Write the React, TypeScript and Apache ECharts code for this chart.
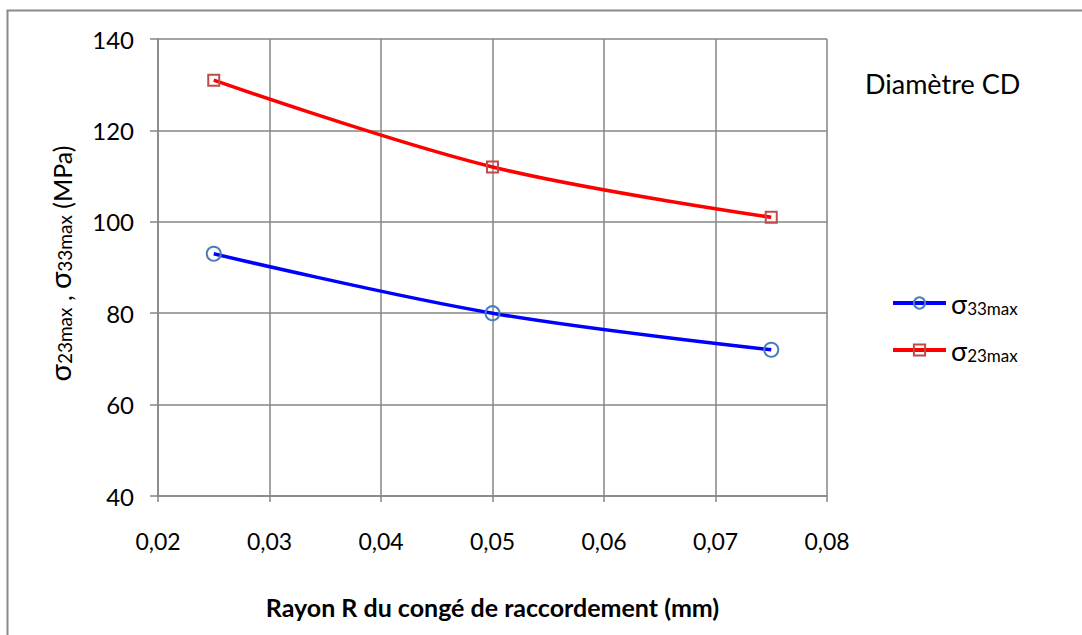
import React, { useEffect, useRef } from "react";
import * as echarts from "echarts";

const rayon = [0.025, 0.05, 0.075];
const sigma33 = [93, 80, 72];
const sigma23 = [131, 112, 101];
const xTicks = [0.02, 0.03, 0.04, 0.05, 0.06, 0.07, 0.08];
const yTicks = [40, 60, 80, 100, 120, 140];

const FONT = "Lato, 'Open Sans', sans-serif";

export default function App() {
  const ref = useRef<HTMLDivElement>(null);
  useEffect(() => {
    if (!ref.current) return;
    const chart = echarts.init(ref.current, null, { renderer: "svg" });
    const grid = { left: 158, right: 1082 - 827, top: 39, bottom: 635 - 496 };
    chart.setOption({
      animation: false,
      backgroundColor: "#ffffff",
      textStyle: { fontFamily: FONT },
      grid: { ...grid, containLabel: false },
      xAxis: {
        type: "value",
        min: xTicks[0],
        max: xTicks[xTicks.length - 1],
        interval: 0.01,
        axisLine: { show: true, lineStyle: { color: "#868686", width: 1.5 } },
        axisTick: { show: true, length: 6, inside: false, lineStyle: { color: "#868686", width: 1.5 } },
        splitLine: { show: true, lineStyle: { color: "#868686", width: 1.5 } },
        axisLabel: {
          color: "#000",
          fontSize: 23,
          fontFamily: FONT,
          margin: 33,
          formatter: (v: number) => v.toFixed(2).replace(".", ","),
        },
        name: "Rayon R du congé de raccordement (mm)",
        nameLocation: "middle",
        nameGap: 98,
        nameTextStyle: { color: "#000", fontSize: 25, fontWeight: "bold", fontFamily: FONT },
      },
      yAxis: {
        type: "value",
        min: yTicks[0],
        max: yTicks[yTicks.length - 1],
        interval: 20,
        axisLine: { show: true, lineStyle: { color: "#868686", width: 1.5 } },
        axisTick: { show: true, length: 8, lineStyle: { color: "#868686", width: 1.5 } },
        splitLine: { show: true, lineStyle: { color: "#868686", width: 1.5 } },
        axisLabel: { color: "#000", fontSize: 24, fontFamily: FONT, margin: 24 },
        name: "{s|σ}{sub|23max}{t| , }{s|σ}{sub|33max}{t| (MPa)}",
        nameLocation: "middle",
        nameGap: 84,
        nameRotate: 90,
        nameTextStyle: {
          color: "#000",
          fontFamily: FONT,
          padding: [0, 0, 0, 8],
          rich: {
            s: { fontSize: 29, fontFamily: FONT, color: "#000", verticalAlign: "bottom", lineHeight: 31 },
            sub: { fontSize: 19, fontFamily: FONT, color: "#000", verticalAlign: "bottom", lineHeight: 25 },
            t: { fontSize: 25, fontFamily: FONT, color: "#000", verticalAlign: "bottom", lineHeight: 31 },
          },
        },
      },
      legend: {
        orient: "vertical",
        left: 886,
        top: 285,
        itemWidth: 53,
        itemHeight: 14,
        itemGap: 20,
        lineStyle: { width: 4 },
        data: ["s33", "s23"],
        formatter: (n: string) =>
          n === "s33" ? "{s|σ}{sub|33max}" : "{s|σ}{sub|23max}",
        textStyle: {
          padding: [0, 0, 0, 0],
          rich: {
            s: { fontSize: 27, fontFamily: FONT, color: "#000", verticalAlign: "bottom", lineHeight: 28 },
            sub: { fontSize: 17, fontFamily: FONT, color: "#000", verticalAlign: "bottom", lineHeight: 21 },
          },
        },
      },
      graphic: [
        {
          type: "polyline",
          shape: { points: [[7.5, 700], [7.5, 10.5], [1090, 10.5]] },
          style: { stroke: "#8a8a8a", lineWidth: 2, fill: "none" },
        },
        {
          type: "text",
          left: 865,
          top: 70,
          style: { text: "Diamètre CD", fontSize: 27, fontFamily: FONT, fill: "#000" },
        },
      ],
      series: [
        {
          name: "s33",
          type: "line",
          smooth: 0.35,
          data: rayon.map((x, i) => [x, sigma33[i]]),
          lineStyle: { color: "#0000ff", width: 3.5 },
          symbol: "circle",
          symbolSize: 14,
          itemStyle: { color: "rgba(0,0,0,0)", borderColor: "#4a7ebb", borderWidth: 2 },
          z: 3,
        },
        {
          name: "s23",
          type: "line",
          smooth: 0.35,
          data: rayon.map((x, i) => [x, sigma23[i]]),
          lineStyle: { color: "#ff0000", width: 3.5 },
          symbol: "rect",
          symbolSize: 11,
          itemStyle: { color: "rgba(0,0,0,0)", borderColor: "#be4b48", borderWidth: 2 },
          z: 3,
        },
      ],
    });
    return () => chart.dispose();
  }, []);
  return (
    <div
      ref={ref}
      style={{ position: "fixed", left: 0, top: 0, width: 1082, height: 635 }}
    />
  );
}
